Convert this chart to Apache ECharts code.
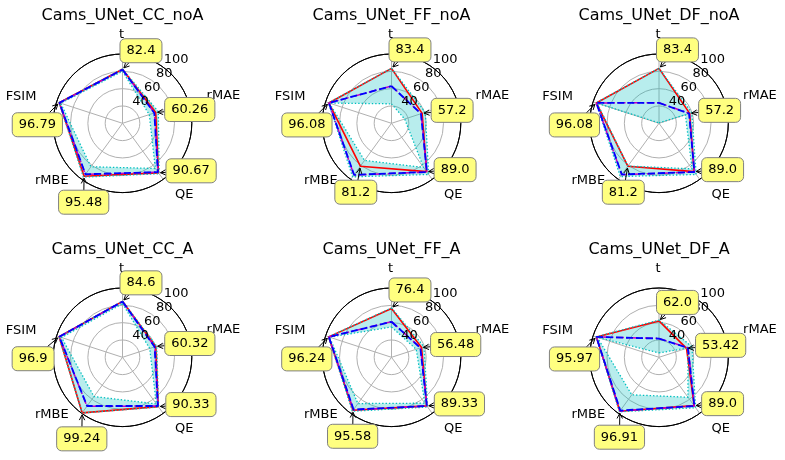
<!DOCTYPE html>
<html><head><meta charset="utf-8">
<script src="https://cdn.jsdelivr.net/npm/echarts@6/dist/echarts.min.js"></script>
<style>html,body{margin:0;padding:0;background:#fff}#c{width:785px;height:460px}</style>
</head><body><div id="c"></div>
<script>
// ---------------- data ----------------
const titles = ['Cams_UNet_CC_noA','Cams_UNet_FF_noA','Cams_UNet_DF_noA','Cams_UNet_CC_A','Cams_UNet_FF_A','Cams_UNet_DF_A'];
const metrics = ['t','rMAE','QE','rMBE','FSIM'];
const radialTickValues = [40, 60, 80, 100];
const radialTickLabels = ['40', '60', '80', '100'];
// values per chart, in metric order t, rMAE, QE, rMBE, FSIM
const redValues = [
  [82.4, 60.26, 90.67, 95.48, 96.79],
  [83.4, 57.2, 89.0, 81.2, 96.08],
  [83.4, 57.2, 89.0, 81.2, 96.08],
  [84.6, 60.32, 90.33, 99.24, 96.9],
  [76.4, 56.48, 89.33, 95.58, 96.24],
  [62.0, 53.42, 89.0, 96.91, 95.97]
];
const blueValues = [
  [82.0, 58.6, 89.6, 92.7, 96.5],
  [62.9, 55.7, 89.5, 93.5, 96.0],
  [43.5, 56.5, 89.5, 93.0, 96.0],
  [84.3, 59.0, 89.5, 89.5, 96.7],
  [61.0, 55.0, 89.5, 94.5, 96.0],
  [41.6, 55.0, 89.5, 96.0, 96.0]
];
const magentaValues = [
  [82.0, 58.8, 89.8, 93.0, 96.5],
  [63.0, 56.0, 89.6, 93.8, 96.0],
  [43.8, 56.8, 89.6, 93.3, 96.0],
  [84.3, 59.2, 89.6, 89.8, 96.7],
  [61.2, 55.3, 89.6, 94.8, 96.0],
  [41.8, 55.4, 89.6, 96.5, 96.0]
];
const bandMax = [
  [82.8, 63.5, 92.0, 96.8, 97.0],
  [83.6, 61.0, 93.0, 96.4, 96.5],
  [83.6, 59.8, 93.0, 96.0, 96.5],
  [85.0, 61.5, 91.0, 99.5, 97.2],
  [77.0, 59.5, 91.0, 97.0, 96.6],
  [63.0, 60.0, 92.0, 97.8, 96.5]
];
const bandMin = [
  [80.0, 52.5, 84.5, 82.0, 95.0],
  [42.5, 36.0, 83.0, 73.0, 95.5],
  [20.5, 52.0, 85.0, 81.0, 95.0],
  [82.0, 53.0, 86.5, 76.0, 94.0],
  [55.0, 50.0, 85.5, 86.0, 95.2],
  [25.0, 55.0, 77.0, 73.5, 95.0]
];

// ---------------- layout / style ----------------
const FONT = 'DejaVu Sans';
const cols = [122.5, 391.5, 659];
const rows = [123.3, 357.3];
const R = 69.3;
const nameOffset = [[-1, -19], [35, -6.2], [21, 15], [-30, 1], [-35.5, -5.7]];
const annotOffset = [[-2.5, -18.5], [9, -3], [7.5, -2], [-25.5, 26], [-47, 22]];
const SERIES_PER_CHART = 7;

const angleOf = i => i * 360 / metrics.length;
const closed = vals => vals.map((v, i) => [v, angleOf(i)]).concat([[vals[0], 360]]);
const fmt = v => Number.isInteger(v) ? v.toFixed(1) : String(v);

const chart = echarts.init(document.getElementById('c'));
const polar = [], angleAxis = [], radiusAxis = [], series = [], title = [];

titles.forEach((tt, k) => {
  const cx = cols[k % 3], cy = rows[Math.floor(k / 3)];
  title.push({text: tt, left: cx, top: cy - 115, textAlign: 'center', padding: 0,
    textStyle: {fontFamily: FONT, fontSize: 16, fontWeight: 'normal', color: '#000'}});
  polar.push({center: [cx, cy], radius: R});
  polar.push({center: [cx, cy], radius: [9.4, 83.3]});
  angleAxis.push({polarIndex: 2 * k, type: 'value', min: 0, max: 360, interval: 72, startAngle: 90, clockwise: true,
    axisLine: {show: true, lineStyle: {color: '#000', width: 1}}, axisTick: {show: false}, axisLabel: {show: false},
    splitLine: {show: true, lineStyle: {color: '#b0b0b0', width: 1}}, silent: true});
  radiusAxis.push({polarIndex: 2 * k, type: 'value', min: 20, max: 100, interval: 20,
    axisLine: {show: false}, axisTick: {show: false}, axisLabel: {show: false},
    splitLine: {show: true, lineStyle: {color: ['#b0b0b0', '#b0b0b0', '#b0b0b0', '#b0b0b0', '#000'], width: 1}}, silent: true});
  angleAxis.push({polarIndex: 2 * k + 1, type: 'value', min: 0, max: 360, startAngle: 50, clockwise: true,
    axisLine: {show: false}, axisTick: {show: false}, axisLabel: {show: false}, splitLine: {show: false}});
  radiusAxis.push({polarIndex: 2 * k + 1, type: 'value', min: 20, max: 100, interval: 20, z: 10,
    axisLine: {show: false}, axisTick: {show: false}, splitLine: {show: false},
    axisLabel: {show: true, margin: 0, align: 'center', verticalAlign: 'middle', showMinLabel: false, showMaxLabel: true,
      fontFamily: FONT, fontSize: 13, color: '#000',
      formatter: v => { const j = radialTickValues.indexOf(v); return j >= 0 ? radialTickLabels[j] : ''; }}});

  const base = {type: 'line', coordinateSystem: 'polar', polarIndex: 2 * k, symbol: 'none', silent: true, clip: false};
  series.push(Object.assign({}, base, {data: closed(bandMin[k]), stack: 'band' + k, lineStyle: {width: 0, opacity: 0}}));
  series.push(Object.assign({}, base, {data: closed(bandMax[k].map((v, i) => v - bandMin[k][i])), stack: 'band' + k,
    lineStyle: {width: 0, opacity: 0}, areaStyle: {color: 'rgba(0,191,191,0.28)', opacity: 1}}));
  series.push(Object.assign({}, base, {data: closed(redValues[k]), lineStyle: {color: '#ff0000', width: 1.6, type: 'solid'}}));
  series.push(Object.assign({}, base, {data: closed(bandMax[k]), lineStyle: {color: '#00bfbf', width: 1.3, type: [1.4, 2]}}));
  series.push(Object.assign({}, base, {data: closed(bandMin[k]), lineStyle: {color: '#00bfbf', width: 1.3, type: [1.4, 2]}}));
  series.push(Object.assign({}, base, {data: closed(magentaValues[k]), lineStyle: {color: '#bf00bf', width: 1.5, type: [8, 2.5, 1.5, 2.5]}}));
  series.push(Object.assign({}, base, {data: closed(blueValues[k]), lineStyle: {color: '#0000ff', width: 1.8, type: [7, 3]}}));
});

chart.setOption({animation: false, backgroundColor: '#fff', title, polar, angleAxis, radiusAxis, series});

// ---------------- names and annotations ----------------
const ctx = document.createElement('canvas').getContext('2d');
ctx.font = '13px "DejaVu Sans"';
const g = [];
titles.forEach((tt, k) => {
  const si = SERIES_PER_CHART * k + 2;
  metrics.forEach((m, i) => {
    const a = angleOf(i);
    const outer = chart.convertToPixel({seriesIndex: si}, [100, a]);
    g.push({type: 'text', silent: true, z: 50, style: {text: m, x: outer[0] + nameOffset[i][0], y: outer[1] + nameOffset[i][1],
      align: 'center', verticalAlign: 'middle', font: '13px "DejaVu Sans"', fill: '#000'}});
    const v = redValues[k][i];
    const p = chart.convertToPixel({seriesIndex: si}, [v, a]);
    const label = fmt(v);
    const bw = ctx.measureText(label).width + 13, bh = 24;
    const bx = p[0] + annotOffset[i][0], by = p[1] + annotOffset[i][1] - bh / 2;
    const ccx = bx + bw / 2, ccy = by + bh / 2;
    const dx = p[0] - ccx, dy = p[1] - ccy, L = Math.hypot(dx, dy);
    const ux = dx / L, uy = dy / L;
    const tEdge = Math.min(Math.abs(dx) > 1e-6 ? (bw / 2) / Math.abs(dx) : Infinity,
                           Math.abs(dy) > 1e-6 ? (bh / 2) / Math.abs(dy) : Infinity);
    if (tEdge < 1) {
      const s = [ccx + dx * tEdge, ccy + dy * tEdge];
      const e = [p[0] - ux * 2, p[1] - uy * 2];
      g.push({type: 'line', silent: true, z: 60, shape: {x1: s[0], y1: s[1], x2: e[0], y2: e[1]}, style: {stroke: '#000', lineWidth: 1}});
      const hl = 5.3, hw = 2.7;
      g.push({type: 'polyline', silent: true, z: 60, shape: {points: [
        [e[0] - ux * hl - uy * hw, e[1] - uy * hl + ux * hw], e, [e[0] - ux * hl + uy * hw, e[1] - uy * hl - ux * hw]]},
        style: {stroke: '#000', lineWidth: 1, fill: null}});
    }
    g.push({type: 'rect', silent: true, z: 70, shape: {x: bx, y: by, width: bw, height: bh, r: 5},
      style: {fill: '#ffff80', stroke: '#808080', lineWidth: 1}});
    g.push({type: 'text', silent: true, z: 71, style: {text: label, x: ccx, y: ccy, align: 'center', verticalAlign: 'middle',
      font: '13px "DejaVu Sans"', fill: '#000'}});
  });
});
chart.setOption({graphic: g});
</script>
</body></html>
